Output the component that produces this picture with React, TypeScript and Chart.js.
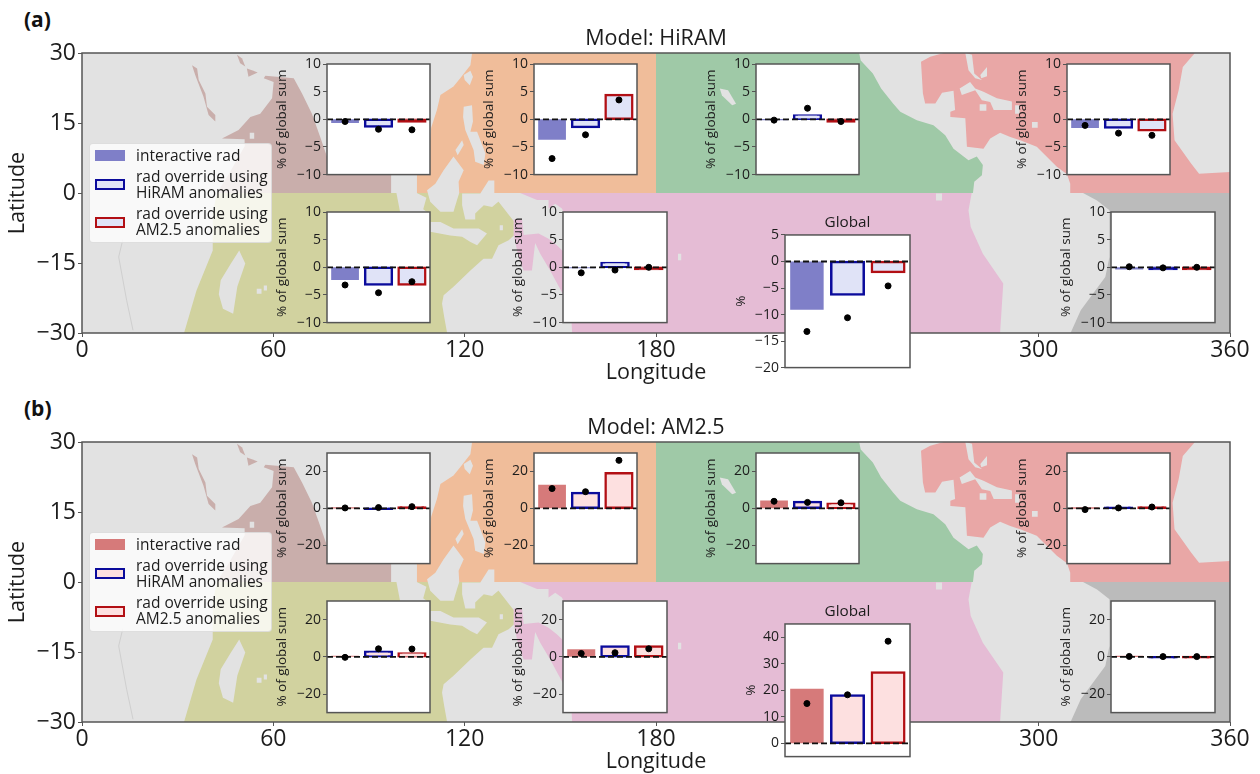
import React, { useEffect, useRef } from "react";
import { Chart, registerables } from "chart.js";

Chart.register(...registerables);

// ---------- Inset values, order: brown, orange, green, red, olive, pink, gray, global ----------
const hiramInteractive = [-0.6, -3.6, -0.05, -1.5, -2.2, -0.1, -0.3, -9.0];
const hiramOverrideHiram = [-1.3, -1.4, 0.7, -1.5, -3.1, 0.8, -0.3, -6.2];
const hiramOverrideAm = [-0.4, 4.4, -0.4, -2.0, -3.1, -0.3, -0.3, -2.0];
const hiramDotsInteractive = [-0.4, -7.1, -0.15, -1.1, -3.2, -1.0, 0.1, -13.2];
const hiramDotsOverrideHiram = [-1.8, -2.8, 2.0, -2.5, -4.6, -0.5, -0.1, -10.6];
const hiramDotsOverrideAm = [-1.9, 3.5, -0.4, -2.9, -2.6, 0.0, 0.0, -4.6];

const amInteractive = [0.1, 12.5, 4.0, 0.05, 0.3, 3.8, 0.1, 20.4];
const amOverrideHiram = [-0.3, 8.3, 3.4, 0.3, 2.7, 5.5, -0.2, 18.0];
const amOverrideAm = [0.5, 19.0, 2.5, 0.4, 1.8, 5.5, -0.1, 26.7];
const amDotsInteractive = [0.2, 10.7, 3.8, -0.7, -0.3, 1.8, 0.2, 15.0];
const amDotsOverrideHiram = [0.4, 9.0, 3.2, 0.2, 4.3, 2.2, 0.1, 18.3];
const amDotsOverrideAm = [0.9, 26.0, 3.0, 0.7, 4.2, 4.3, 0.1, 38.5];

const hiramTicks = [-10, -5, 0, 5, 10];
const hiramGlobalTicks = [-20, -15, -10, -5, 0, 5];
const amTicks = [-20, 0, 20];
const amGlobalTicks = [0, 10, 20, 30, 40];
const lonTicks = [0, 60, 120, 180, 240, 300, 360];
const latTicks = [-30, -15, 0, 15, 30];
const barSlots = [0, 1, 2];

// ---------- Map outlines, [longitude, latitude] ----------
const landBase = [[0, -30], [360, -30], [360, 30], [0, 30]];
const brownSea = [[43.9, 11.7], [49.1, 13.5], [52.8, 16.3], [55.9, 17], [59.6, 20.3], [60.1, 23.8], [57, 24.6], [57.5, 25.1], [66.4, 24.6], [69, 21.3], [72.1, 17], [74.7, 12], [76.8, 7.8], [77.5, 6], [85, 18], [95, 18], [97, 3.8], [97, 0], [42.3, 0], [46, 4], [51, 10], [51, 11.5]];
const redSea = [[34.5, 27.4], [36.1, 26.7], [36.6, 24.2], [38.7, 21.3], [39.2, 18.5], [41.8, 16.7], [41.8, 15.3], [39.7, 16.7], [38.1, 20.6], [35.5, 25.3]];
const gulfNorth = [[48.6, 29.6], [50.2, 28.8], [51.2, 27.1], [49.6, 27.8]];
const gulfSouth = [[51.7, 26.7], [53.3, 26.3], [55.1, 25.8], [52.2, 24.9]];
const orangeSea = [[122.5, 30], [180, 30], [180, 0], [105, 0], [105, 3.8], [109, 10], [109.5, 14], [111.3, 17.8], [112.4, 21], [116.5, 22.8], [118.6, 24.6], [121.8, 27.4], [122.3, 29.9]];
const greenSea = [[180, 30], [243.7, 30], [244.2, 28.4], [248, 25.6], [250.6, 22.4], [254.4, 19.1], [256.6, 17.4], [261.8, 15.6], [267, 14.5], [270.7, 12.4], [273.3, 9.5], [278, 7], [280.6, 7.8], [282.5, 6], [282.2, 3.8], [279.8, 2.4], [279.4, 0], [180, 0]];
const redAtlantic = [[263.1, 28.1], [266, 29.2], [270.2, 30], [349, 30], [345.2, 27], [343.9, 22], [342, 17], [342.6, 11.3], [347.8, 6.3], [350.3, 4.1], [360, 4.5], [360, 0], [310.1, 0], [309.9, 2], [308.9, 4], [305.7, 5.6], [299.4, 9.9], [294.2, 11.3], [291.1, 12], [287.9, 12.9], [284.8, 11.7], [282.7, 9.5], [277.5, 9.9], [277, 16], [272.5, 16.3], [272.3, 17.4], [273.8, 17.8], [273.3, 21.9], [269.7, 21.5], [267.6, 19.2], [264.4, 19.2], [263.7, 21.3]];
const graySea = [[313.9, 0], [360, 0], [360, -30], [310, -30], [313.2, -25.1], [320.9, -18], [322.2, -13.7], [322.2, -3.7], [318.3, -1.6]];
const oliveSea = [[42.3, 0], [128.6, 0], [130.2, -1.5], [134.8, -5.5], [135.4, -6], [135.4, -9.1], [133.8, -10.1], [130.6, -11.2], [128.6, -14.1], [125.9, -14.1], [121.8, -16.6], [116.5, -20.1], [113.4, -21.9], [112.9, -23.7], [113.6, -26.6], [114.5, -30], [32, -30], [35.9, -20.9], [41, -12.3], [41, -4.4]];
const pinkSea = [[137.4, 0], [279, 0], [278, -3.7], [278.7, -7.3], [282.5, -13], [288.9, -19.4], [287.9, -30], [153.7, -30], [153.4, -26], [151, -21.9], [146.8, -16.6], [143.7, -13], [142.1, -10.7], [141.1, -16.6], [138.5, -16.6], [136.9, -13.7], [135.4, -9.1], [135.4, -5.7], [138, -5.7], [138.5, -9], [143.2, -8.7], [146.3, -9.8], [148.9, -11.2], [151, -12.6], [151, -4.05], [150.5, -3.3], [148.4, -2.3], [146.3, -3.3], [146.3, -1.5], [142.7, -1.5]];
const islands = [
  [[119.7, 25.3], [121.8, 26.2], [122.6, 24.9], [121.6, 23.1], [120, 24.2]],
  [[119.7, 18.5], [122.3, 18.8], [122.6, 15.3], [121.8, 13.1], [123.9, 13.1], [126.5, 8.5], [126, 6], [123.3, 6.7], [122.8, 9.2], [120.2, 13.5], [119.5, 16.3]],
  [[117.1, 9.2], [119.2, 11.3], [119.7, 10.3], [117.8, 8.1]],
  [[116.5, 7.8], [119.7, 4.9], [118.1, 2.4], [118.3, 0], [117.6, -1.5], [116.5, -4], [112.4, -4], [109.2, -1.9], [108.2, 0.6], [110.8, 2], [113.4, 4.9]],
  [[119.2, -0.1], [124.9, -0.1], [127.5, 2.7], [129.3, 2.7], [129.3, -0.5], [131.2, -1.5], [128.6, -3], [126, -2.6], [123.3, -4.4], [123.3, -5.7], [120.2, -5.7], [119.2, -2.6]],
  [[109.2, -6.2], [112.4, -6.2], [116.5, -7.6], [124.4, -7.6], [127, -8.7], [123.9, -11.2], [121.8, -10.5], [119.2, -9.4], [115.5, -9.1], [109.2, -8.3]],
  [[97, 3.8], [105, 3.8], [105, 0], [108, -1], [107, -3.5], [109, -4.5], [108, -6], [100, -5], [98.6, 0], [97, 0]],
  [[43.5, -18.7], [46.7, -15.1], [49.3, -12.3], [51.2, -15.1], [48.7, -20.1], [47.4, -25.9], [44.2, -24.8], [42.9, -21.7]],
  [[54.8, -20.5], [56.3, -20.5], [56.3, -21.6], [54.8, -21.6]],
  [[57, -19.8], [58, -19.8], [58, -20.9], [57, -20.9]],
  [[52.6, 12.9], [54, 12.9], [54, 11.6], [52.6, 11.6]],
  [[200, 22.4], [202.6, 22], [205.1, 19.1], [203.9, 18.8], [200.7, 20.9]],
  [[277, 30], [279.1, 29.6], [279.8, 25.6], [282.2, 24.2], [280.1, 24.6], [278, 26.3]],
  [[275.2, 22.4], [278.5, 23.8], [280.1, 22.4], [282.7, 21.7], [286.9, 20.3], [291.6, 19.6], [291.6, 17.8], [285.9, 17.8], [284.8, 19.5], [282.2, 19.9], [280.1, 22], [275.9, 21]],
  [[281.7, 25.3], [283.8, 27], [283.8, 25], [282, 24.6]],
  [[281.5, 19], [283.6, 19], [283.6, 17.6], [281.5, 17.6]],
  [[292.6, 18.8], [294, 18.8], [294, 17], [292.6, 17]],
  [[297.9, 15.2], [299.7, 15.2], [299.7, 14], [297.9, 14]],
  [[267.8, -0.1], [269.7, -0.1], [269.7, -1.6], [267.8, -1.6]],
  [[186.9, -13], [187.9, -13], [187.9, -14.4], [186.9, -14.4]],
  [[131, -6.9], [132, -6.9], [132, -8], [131, -8]],
];
const africaRiver = [[12.8, -10], [11.5, -13.7], [14, -23], [16, -29.4]];

// ---------- Styles and layout ----------
const FONT = "'Open Sans'";
const TEXT = "#1c1c1c";
const SPINE = "#555555";
const LAND = "#e2e2e2";
const NAVY = "#0b0b9c";
const CRIMSON = "#b20f14";
const EDGE = 2.5;
const regionLayers: [number[][], string][] = [
  [brownSea, "#c9aeab"], [redSea, "#c9aeab"], [gulfNorth, "#c9aeab"], [gulfSouth, "#c9aeab"],
  [orangeSea, "#f0bd9a"], [greenSea, "#9fc9a7"], [redAtlantic, "#e9a7a6"], [graySea, "#bbbbbb"],
  [oliveSea, "#d1d29f"], [pinkSea, "#e5bcd5"],
];
const COL = [[327, 430], [534, 637], [756, 859], [1067, 1170], [327, 430], [563, 667], [1111, 1215], [785, 910]];
const ROWS_A = [[64, 175], [64, 175], [64, 175], [64, 175], [212, 323], [212, 323], [212, 323], [235, 368]];
const ROWS_B = [[453, 564], [453, 564], [453, 564], [453, 564], [601, 713], [601, 713], [601, 713], [624, 757]];
const PAD_L = 60, PAD_T = 30, PAD_R = 10, PAD_B = 10;

const frame = (color: string, fillWhite: boolean) => ({
  id: "frame",
  beforeDraw(c: any) {
    if (!fillWhite) return;
    const a = c.chartArea;
    c.ctx.save();
    c.ctx.fillStyle = "#ffffff";
    c.ctx.fillRect(a.left, a.top, a.right - a.left, a.bottom - a.top);
    c.ctx.restore();
  },
  afterDraw(c: any) {
    const a = c.chartArea;
    c.ctx.save();
    c.ctx.strokeStyle = color;
    c.ctx.lineWidth = 1.5;
    c.ctx.strokeRect(a.left, a.top, a.right - a.left, a.bottom - a.top);
    c.ctx.restore();
  },
});

const minus = (v: any) => String(v).replace("-", "\u2212");

function MapPanel({ top, title }: { top: number; title: string }) {
  const ref = useRef<HTMLCanvasElement>(null);
  useEffect(() => {
    const toXY = (p: number[][]) => p.map(([x, y]) => ({ x, y }));
    const polygon = (p: number[][], color: string, order: number) => ({
      type: "line", data: toXY(p), backgroundColor: color, borderWidth: 0,
      pointRadius: 0, tension: 0, fill: "shape", order,
    });
    const datasets: any[] = [];
    datasets.push(polygon(landBase, LAND, 100));
    regionLayers.forEach(([p, color], i) => datasets.push(polygon(p, color, 90 - i)));
    islands.forEach((p, i) => datasets.push(polygon(p, LAND, 60 - i)));
    datasets.push({
      type: "line", data: toXY(africaRiver), borderColor: "#cfcfcf", borderWidth: 1,
      pointRadius: 0, tension: 0, fill: false, order: 1,
    });
    const chart = new Chart(ref.current!, {
      type: "line",
      data: { datasets },
      plugins: [frame(SPINE, false)],
      options: {
        animation: false, responsive: false,
        layout: { padding: { left: 0, right: 30, top: 0, bottom: 0 } },
        plugins: {
          legend: { display: false }, tooltip: { enabled: false },
          title: {
            display: true, text: title, fullSize: false, color: TEXT,
            font: { family: FONT, size: 21.5, weight: "normal" },
            padding: { top: 25.6, bottom: 1.6 },
          },
        },
        scales: {
          x: {
            type: "linear", min: 0, max: 360,
            afterBuildTicks: (s: any) => { s.ticks = lonTicks.map((value) => ({ value })); },
            afterFit: (s: any) => { s.height = 54; },
            ticks: { autoSkip: false, maxRotation: 0, color: TEXT, padding: 0, font: { family: FONT, size: 23 }, callback: minus },
            grid: { drawOnChartArea: false, tickLength: 4, color: SPINE },
            border: { display: false },
            title: { display: true, text: "Longitude", color: TEXT, font: { family: FONT, size: 21.5 }, padding: { top: 0, bottom: 1 } },
          },
          y: {
            type: "linear", min: -30, max: 30,
            afterBuildTicks: (s: any) => { s.ticks = latTicks.map((value) => ({ value })); },
            afterFit: (s: any) => { s.width = 82; },
            ticks: { autoSkip: false, color: TEXT, padding: 2, font: { family: FONT, size: 23 }, callback: minus },
            grid: { drawOnChartArea: false, tickLength: 4, color: SPINE },
            border: { display: false },
            title: { display: true, text: "Latitude", color: TEXT, font: { family: FONT, size: 21.5 }, padding: { top: 5, bottom: 0 } },
          },
        },
      } as any,
    } as any);
    return () => chart.destroy();
  }, [top, title]);
  return <canvas ref={ref} width={1260} height={387} style={{ position: "absolute", left: 0, top, display: "block" }} />;
}

type InsetProps = {
  col: number[]; row: number[]; bars: number[]; dots: number[]; ticks: number[];
  min: number; max: number; fillA: string; fillB: string; yLabel: string; labelOffset: number; title?: string;
};

function Inset({ col, row, bars, dots, ticks, min, max, fillA, fillB, yLabel, labelOffset, title }: InsetProps) {
  const ref = useRef<HTMLCanvasElement>(null);
  const w = col[1] - col[0] + PAD_L + PAD_R;
  const h = row[1] - row[0] + PAD_T + PAD_B;
  useEffect(() => {
    const xMin = -0.54, xMax = 2.54;
    const pxPerUnit = (row[1] - row[0]) / (max - min);
    const thin = (v: number) => Math.abs(v) * pxPerUnit < EDGE;
    const chart = new Chart(ref.current!, {
      type: "bar",
      data: {
        datasets: [
          {
            type: "scatter", data: barSlots.map((x, i) => ({ x, y: dots[i] })),
            backgroundColor: "#000000", borderColor: "#000000", pointRadius: 3, order: 0,
          },
          {
            type: "line", data: [{ x: xMin, y: 0 }, { x: xMax, y: 0 }],
            borderColor: "#111111", borderWidth: 1.8, borderDash: [6, 3], pointRadius: 0, order: 1,
          },
          {
            type: "bar", data: barSlots.map((x, i) => ({ x, y: bars[i] })),
            backgroundColor: [fillA, thin(bars[1]) ? NAVY : fillB, thin(bars[2]) ? CRIMSON : fillB],
            borderColor: [fillA, NAVY, CRIMSON], borderWidth: [0, EDGE, EDGE],
            inflateAmount: [0.5, EDGE / 2, EDGE / 2],
            borderSkipped: false, barPercentage: 0.8, categoryPercentage: 1, order: 2,
          },
        ],
      },
      plugins: [frame(SPINE, true)],
      options: {
        animation: false, responsive: false,
        layout: { padding: { left: 0, right: PAD_R, top: title ? 0 : PAD_T, bottom: PAD_B } },
        plugins: {
          legend: { display: false }, tooltip: { enabled: false },
          title: {
            display: !!title, text: title, fullSize: false, color: TEXT,
            font: { family: FONT, size: 15.3, weight: "normal" },
            padding: { top: 8.6, bottom: 3.0 },
          },
        },
        scales: {
          x: { type: "linear", min: xMin, max: xMax, offset: false, display: false },
          y: {
            type: "linear", min, max,
            afterBuildTicks: (s: any) => { s.ticks = ticks.map((value) => ({ value })); },
            afterFit: (s: any) => { s.width = PAD_L; },
            ticks: { autoSkip: false, color: TEXT, padding: 2, font: { family: FONT, size: 14 }, callback: minus },
            grid: { drawOnChartArea: false, tickLength: 4, color: SPINE },
            border: { display: false },
            title: {
              display: true, text: yLabel, color: TEXT, font: { family: FONT, size: 13.5 },
              padding: { top: PAD_L - labelOffset - 8.1, bottom: 0 },
            },
          },
        },
      } as any,
    } as any);
    return () => chart.destroy();
  }, []);
  return (
    <canvas ref={ref} width={w} height={h}
      style={{ position: "absolute", left: col[0] - PAD_L, top: row[0] - PAD_T, display: "block" }} />
  );
}

function LegendBox({ top, fill, tint }: { top: number; fill: string; tint: string }) {
  const txt: React.CSSProperties = { position: "absolute", left: 46, fontFamily: FONT, fontSize: 15.5, lineHeight: "16.3px", color: TEXT, whiteSpace: "pre" };
  const patch = (t: number, bg: string, edge?: string): React.CSSProperties => ({
    position: "absolute", left: 5, top: t, width: 30, height: 11, boxSizing: "border-box",
    background: bg, border: edge ? `2px solid ${edge}` : "none",
  });
  return (
    <div style={{
      position: "absolute", left: 89, top, width: 183, height: 100, boxSizing: "border-box",
      background: "rgba(255,255,255,0.8)", border: "1px solid rgba(204,204,204,0.6)", borderRadius: 4,
    }}>
      <div style={patch(6, fill)} />
      <div style={{ ...txt, top: 3 }}>interactive rad</div>
      <div style={patch(35, tint, NAVY)} />
      <div style={{ ...txt, top: 23.5 }}>{"rad override using\nHiRAM anomalies"}</div>
      <div style={patch(73, tint, CRIMSON)} />
      <div style={{ ...txt, top: 60.5 }}>{"rad override using\nAM2.5 anomalies"}</div>
    </div>
  );
}

const panelLabel = (text: string, top: number) => (
  <div style={{ position: "absolute", left: 24, top, fontFamily: FONT, fontWeight: 700, fontSize: 21, lineHeight: "22px", color: "#111" }}>{text}</div>
);

export default function App() {
  const idx = [0, 1, 2, 3, 4, 5, 6, 7];
  return (
    <div style={{ position: "absolute", left: 0, top: 0, width: 1260, height: 774, overflow: "hidden", background: "#fff", filter: "blur(0.4px)" }}>
      {panelLabel("(a)", 8)}
      {panelLabel("(b)", 397)}
      <MapPanel top={0} title="Model: HiRAM" />
      <MapPanel top={389} title="Model: AM2.5" />
      <LegendBox top={143} fill="#7f7fc8" tint="#e0e3f7" />
      <LegendBox top={532} fill="#d67a7a" tint="#fde0e0" />
      {idx.map((i) => (
        <Inset key={"a" + i} col={COL[i]} row={ROWS_A[i]}
          bars={[hiramInteractive[i], hiramOverrideHiram[i], hiramOverrideAm[i]]}
          dots={[hiramDotsInteractive[i], hiramDotsOverrideHiram[i], hiramDotsOverrideAm[i]]}
          ticks={i === 7 ? hiramGlobalTicks : hiramTicks}
          min={i === 7 ? -20 : -10} max={i === 7 ? 5 : 10}
          fillA="#7f7fc8" fillB="#e0e3f7"
          yLabel={i === 7 ? "%" : "% of global sum"} labelOffset={i === 7 ? 44 : 45}
          title={i === 7 ? "Global" : undefined} />
      ))}
      {idx.map((i) => (
        <Inset key={"b" + i} col={COL[i]} row={ROWS_B[i]}
          bars={[amInteractive[i], amOverrideHiram[i], amOverrideAm[i]]}
          dots={[amDotsInteractive[i], amDotsOverrideHiram[i], amDotsOverrideAm[i]]}
          ticks={i === 7 ? amGlobalTicks : amTicks}
          min={i === 7 ? -5 : -30} max={i === 7 ? 45 : 30}
          fillA="#d67a7a" fillB="#fde0e0"
          yLabel={i === 7 ? "%" : "% of global sum"} labelOffset={i === 7 ? 34 : 45}
          title={i === 7 ? "Global" : undefined} />
      ))}
    </div>
  );
}
